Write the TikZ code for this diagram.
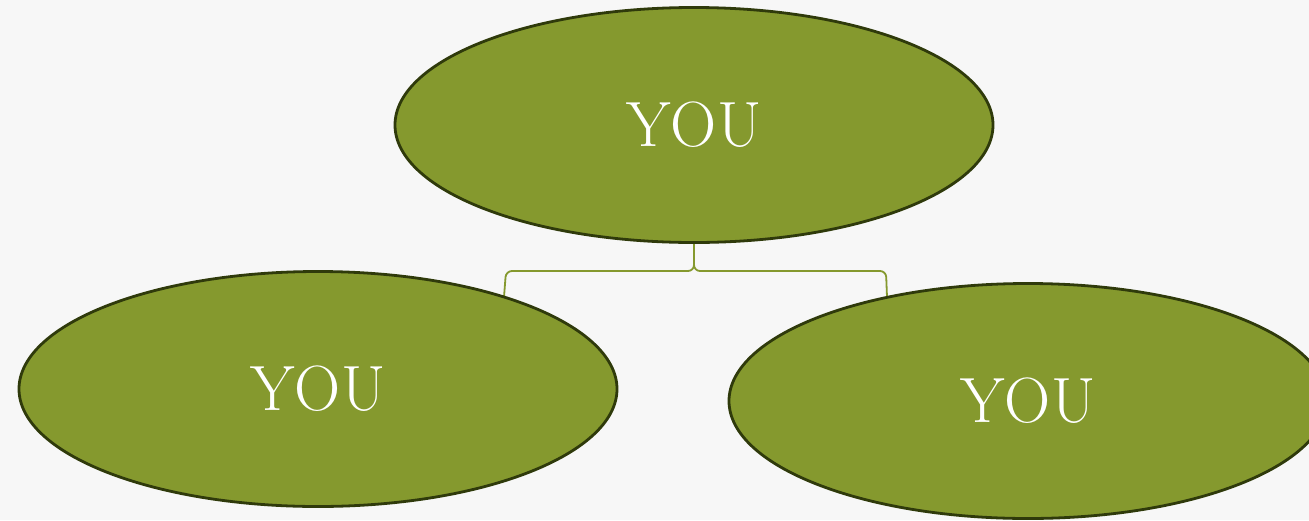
\documentclass[tikz,border=0pt]{standalone}
\usetikzlibrary{shapes.geometric,backgrounds}
\definecolor{bg}{HTML}{F7F7F7}
\definecolor{olive}{HTML}{85992E}
\definecolor{oliveedge}{HTML}{2F3A0B}
\tikzset{
  youell/.style={ellipse, fill=olive, draw=oliveedge, line width=2.8pt,
    minimum width=598pt, minimum height=235pt, inner sep=0pt,
    text=white, font=\fontsize{64}{66}\selectfont},
  conn/.style={draw=olive, line width=1.8pt, rounded corners=6pt}
}
\begin{document}
\begin{tikzpicture}[x=1pt,y=-1pt]
\useasboundingbox (0,0) rectangle (1309,520);
\clip (0,0) rectangle (1309,520);
\node[youell] (top) at (694,125) {YOU};
\node[youell] (left) at (318,389) {YOU};
\node[youell] (right) at (1028,401) {YOU};
\coordinate (tb) at (694,242);
\coordinate (lt) at (504,297);
\coordinate (rt) at (887,297);
\begin{scope}[on background layer]
\fill[bg] (0,0) rectangle (1309,520);
\draw[conn] (tb) -- (694,271) -- (506,271) -- (lt);
\draw[conn] (tb) -- (694,271) -- (886,271) -- (rt);
\end{scope}
\end{tikzpicture}
\end{document}
